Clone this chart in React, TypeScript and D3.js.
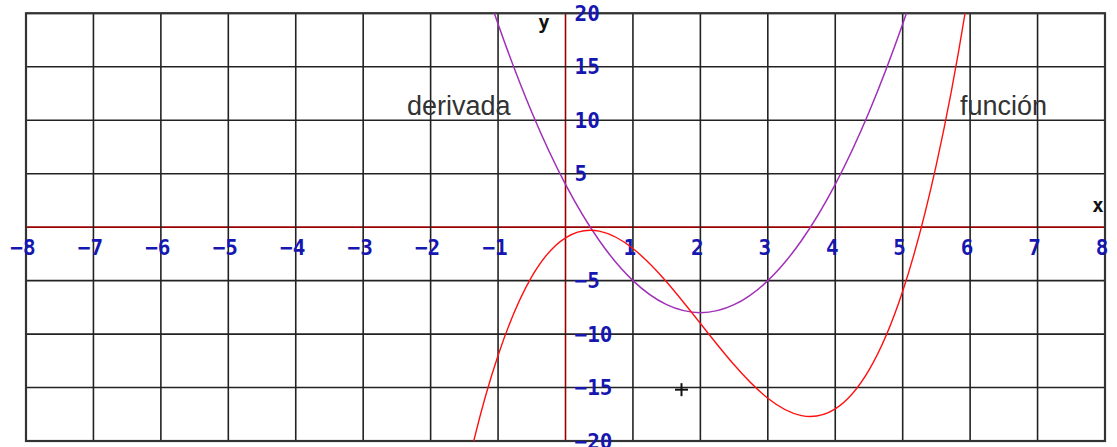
import React from "react";
import * as d3 from "d3";

// Axis ticks (the origin is left unlabeled)
const xTicks = [-8, -7, -6, -5, -4, -3, -2, -1, 1, 2, 3, 4, 5, 6, 7, 8];
const yTicks = [-20, -15, -10, -5, 5, 10, 15, 20];
const xGrid = [-8, -7, -6, -5, -4, -3, -2, -1, 0, 1, 2, 3, 4, 5, 6, 7, 8];
const yGrid = [-20, -15, -10, -5, 0, 5, 10, 15, 20];

// función: sampled values of the plotted cubic
const funcX = [-2, -1.5, -1, -0.5, 0, 0.5, 1, 1.5, 2, 2.5, 3, 3.5, 4, 4.5, 5, 5.5, 6, 6.5];
const funcY = [-41, -23.875, -12, -4.625, -1, -0.375, -2, -5.125, -9, -12.875, -16, -17.625, -17, -13.375, -6, 5.875, 23, 46.125];

// derivada: sampled values of the parabola
const derivX = [-2, -1.5, -1, -0.5, 0, 0.5, 1, 1.5, 2, 2.5, 3, 3.5, 4, 4.5, 5, 5.5, 6];
const derivY = [40, 28.75, 19, 10.75, 4, -1.25, -5, -7.25, -8, -7.25, -5, -1.25, 4, 10.75, 19, 28.75, 40];

// cursor marker
const markerX = [1.72];
const markerY = [-15.2];

const W = 1117;
const H = 447;

export default function App() {
  const x = d3.scaleLinear().domain([-8, 8]).range([26, 1105]);
  const y = d3.scaleLinear().domain([-20, 20]).range([441, 13.3]);

  const line = d3
    .line<[number, number]>()
    .x((d) => x(d[0]))
    .y((d) => y(d[1]))
    .curve(d3.curveNatural);

  const funcPts = funcX.map((v, i) => [v, funcY[i]] as [number, number]);
  const derivPts = derivX.map((v, i) => [v, derivY[i]] as [number, number]);

  const labelFont = "'DejaVu Sans Mono', monospace";
  const blue = "#1616b0";
  const [x0, x1] = x.range();
  const [y0, y1] = y.range();

  return (
    <svg
      width={W}
      height={H}
      style={{ position: "fixed", left: 0, top: 0, background: "#fff" }}
    >
      <defs>
        <clipPath id="plot">
          <rect x={x0} y={y1} width={x1 - x0} height={y0 - y1} />
        </clipPath>
      </defs>
      <rect x={0} y={0} width={W} height={H} fill="#fff" />

      {/* axes */}
      <line x1={x0} x2={x1} y1={y(0)} y2={y(0)} stroke="#9a0000" strokeWidth={1.6} />
      <line x1={x(0)} x2={x(0)} y1={y0} y2={y1} stroke="#9a0000" strokeWidth={1.6} />

      {/* grid */}
      <g stroke="#222" strokeWidth={1.6}>
        {xGrid.filter((v) => v !== 0).map((v) => (
          <line key={"gx" + v} x1={x(v)} x2={x(v)} y1={y0} y2={y1} />
        ))}
        {yGrid.filter((v) => v !== 0).map((v) => (
          <line key={"gy" + v} x1={x0} x2={x1} y1={y(v)} y2={y(v)} />
        ))}
      </g>
      <rect
        x={x0}
        y={y1}
        width={x1 - x0}
        height={y0 - y1}
        fill="none"
        stroke="#333"
        strokeWidth={2.2}
      />

      {/* tick labels */}
      <g fill={blue} fontFamily={labelFont} fontWeight="bold" fontSize={21}>
        {xTicks.map((v) => (
          <text key={"tx" + v} x={x(v) - 3} y={y(0) + 28} textAnchor="middle">
            {v < 0 ? "\u2212" + Math.abs(v) : String(v)}
          </text>
        ))}
        {yTicks.map((v) => (
          <text key={"ty" + v} x={x(0) + 9} y={y(v) + 7.5}>
            {v < 0 ? "\u2212" + Math.abs(v) : String(v)}
          </text>
        ))}
      </g>

      {/* axis names */}
      <g fill="#111" fontFamily={labelFont} fontWeight="bold" fontSize={19}>
        <text x={1098} y={212} textAnchor="middle">x</text>
        <text x={544} y={29} textAnchor="middle">y</text>
      </g>

      {/* curves */}
      <g clipPath="url(#plot)" fill="none">
        <path d={line(derivPts) ?? ""} stroke="#a030b8" strokeWidth={1.5} />
        <path d={line(funcPts) ?? ""} stroke="#ff1010" strokeWidth={1.4} />
      </g>

      {/* curve names */}
      <g fill="#333" fontFamily="'Liberation Sans', Arial, sans-serif" fontSize={27}>
        <text x={407} y={115}>derivada</text>
        <text x={960} y={115}>función</text>
      </g>

      {/* cursor */}
      {markerX.map((mx, i) => (
        <g key={"m" + i} stroke="#111" strokeWidth={2}>
          <line x1={x(mx) - 6.5} x2={x(mx) + 6.5} y1={y(markerY[i])} y2={y(markerY[i])} />
          <line x1={x(mx)} x2={x(mx)} y1={y(markerY[i]) - 6.5} y2={y(markerY[i]) + 6.5} />
        </g>
      ))}
    </svg>
  );
}
